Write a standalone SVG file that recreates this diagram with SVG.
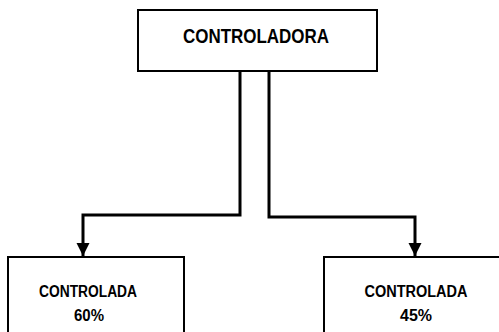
<svg xmlns="http://www.w3.org/2000/svg" width="499" height="332" viewBox="0 0 499 332">
<defs>
<style>
.box{fill:#fff;stroke:#000;stroke-width:2}
.con{fill:none;stroke:#000;stroke-width:3}
.t{font-family:"Liberation Sans",Arial,sans-serif;font-weight:bold;fill:#000}
</style>
<marker id="ah" viewBox="0 0 10 10" refX="10" refY="5" markerWidth="4.5" markerHeight="4.5" markerUnits="strokeWidth" orient="auto">
<path d="M0,0 L10,5 L0,10 Z" fill="#000"/>
</marker>
</defs>
<rect width="499" height="332" fill="#fff"/>
<g id="connectors">
<polyline class="con" points="240,71 240,215 83,215 83,256" marker-end="url(#ah)"/>
<polyline class="con" points="269,71 269,217 415,217 415,256" marker-end="url(#ah)"/>
</g>
<g id="controladora">
<rect class="box" x="138" y="10" width="239" height="61"/>
<text class="t" x="256" y="43" font-size="20" text-anchor="middle" textLength="146" lengthAdjust="spacingAndGlyphs">CONTROLADORA</text>
</g>
<g id="controlada60">
<rect class="box" x="8" y="257" width="176" height="90"/>
<text class="t" x="88" y="297" font-size="16" text-anchor="middle" textLength="98" lengthAdjust="spacingAndGlyphs">CONTROLADA</text>
<text class="t" x="89" y="321" font-size="17" text-anchor="middle" textLength="30" lengthAdjust="spacingAndGlyphs">60%</text>
</g>
<g id="controlada45">
<rect class="box" x="324" y="257" width="190" height="90"/>
<text class="t" x="416" y="297" font-size="16" text-anchor="middle" textLength="103" lengthAdjust="spacingAndGlyphs">CONTROLADA</text>
<text class="t" x="416" y="321" font-size="17" text-anchor="middle" textLength="32" lengthAdjust="spacingAndGlyphs">45%</text>
</g>
</svg>
